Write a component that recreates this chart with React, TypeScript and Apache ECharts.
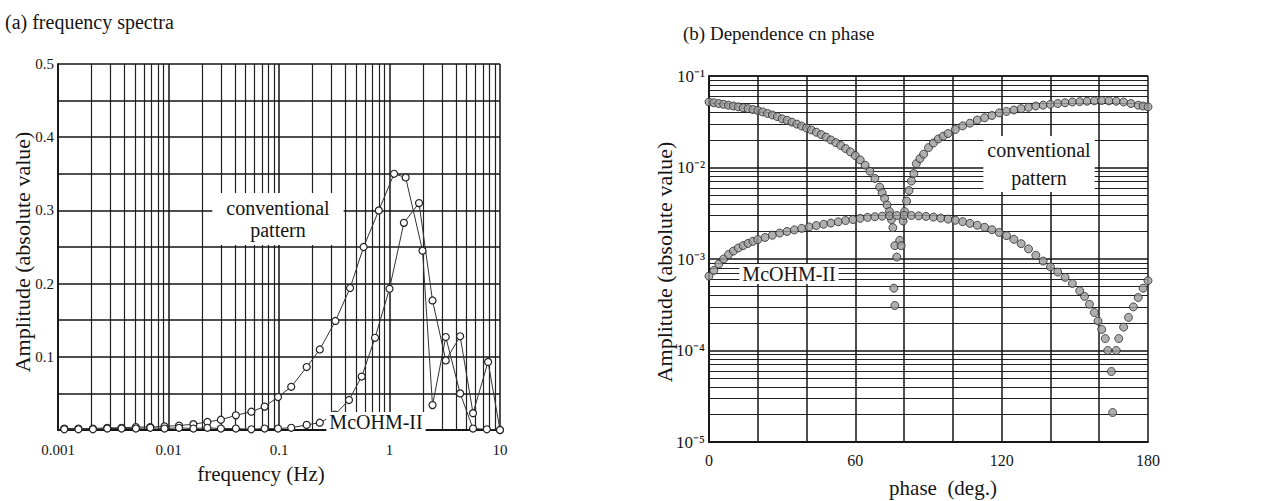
import React, { useEffect, useRef } from "react";
import * as echarts from "echarts";

// ---------- tick labels ----------
const freqTickLabels = ["0.001", "0.01", "0.1", "1", "10"];
const ampTickLabels = ["0.1", "0.2", "0.3", "0.4", "0.5"];
const phaseTickLabels = ["0", "60", "120", "180"];
const decadeLabels = ["10⁻⁵", "10⁻⁴", "10⁻³", "10⁻²", "10⁻¹"];

// ---------- (a) frequency spectra ----------
const convFreq = [0.00114, 0.00153, 0.00207, 0.00279, 0.00376, 0.00507, 0.00684, 0.0092, 0.01245, 0.0168, 0.0225, 0.0298, 0.0407, 0.0562, 0.0741, 0.098, 0.129, 0.178, 0.234, 0.324, 0.44, 0.583, 0.8, 1.1, 1.4, 1.99, 2.45, 3.23, 4.36, 5.7, 7.6, 10];
const convAmp = [0.002, 0.002, 0.002, 0.003, 0.003, 0.004, 0.004, 0.005, 0.006, 0.008, 0.011, 0.014, 0.02, 0.025, 0.032, 0.045, 0.059, 0.086, 0.11, 0.149, 0.194, 0.25, 0.3, 0.35, 0.345, 0.245, 0.034, 0.127, 0.05, 0.002, 0.001, 0.0];

const mcFreq = [0.00114, 0.00153, 0.00207, 0.00279, 0.00376, 0.00507, 0.00684, 0.0092, 0.01245, 0.0168, 0.0225, 0.0298, 0.0407, 0.0562, 0.0741, 0.098, 0.129, 0.178, 0.234, 0.32, 0.43, 0.56, 0.74, 1.0, 1.35, 1.85, 2.45, 3.23, 4.36, 5.7, 7.8, 10];
const mcAmp = [0.001, 0.001, 0.001, 0.002, 0.002, 0.002, 0.003, 0.002, 0.003, 0.002, 0.003, 0.002, 0.002, 0.001, 0.002, 0.002, 0.003, 0.007, 0.01, 0.021, 0.041, 0.073, 0.126, 0.193, 0.283, 0.31, 0.177, 0.095, 0.128, 0.023, 0.093, 0.0];

// ---------- (b) dependence on phase ----------
const convPhase = [0, 2, 4, 6, 8, 10, 12, 14, 16, 18, 20, 22, 24, 26, 28, 30, 32, 34, 36, 38, 40, 42, 44, 46, 48, 50, 52, 54, 56, 58, 60, 62, 64, 66, 68, 70, 71, 72, 73, 74, 74.8, 75.4, 76.2, 77, 75.8, 76.2, 78.2, 78.8, 79.6, 80.2, 81, 82, 83, 84, 85, 86.5, 88, 90, 92, 94, 96, 98, 101, 104, 107, 110, 113, 116, 119, 122, 125, 128, 131, 134, 137, 140, 143, 146, 149, 152, 155, 158, 161, 164, 167, 170, 173, 176, 178, 180];
const convPhaseAmp = [0.052, 0.051, 0.05, 0.049, 0.048, 0.047, 0.046, 0.045, 0.044, 0.043, 0.042, 0.0405, 0.039, 0.0375, 0.036, 0.034, 0.0328, 0.0313, 0.0298, 0.0284, 0.027, 0.0257, 0.0243, 0.0229, 0.0215, 0.02, 0.0187, 0.0174, 0.0161, 0.0148, 0.0135, 0.0121, 0.0106, 0.0091, 0.0076, 0.0061, 0.0053, 0.0046, 0.0039, 0.0033, 0.0027, 0.0022, 0.0014, 0.00105, 0.00048, 0.00031, 0.0016, 0.0014, 0.0026, 0.0033, 0.0043, 0.0056, 0.0071, 0.0086, 0.011, 0.0125, 0.014, 0.0165, 0.0185, 0.0205, 0.022, 0.0235, 0.026, 0.0285, 0.0305, 0.033, 0.035, 0.037, 0.0395, 0.041, 0.0425, 0.044, 0.0455, 0.047, 0.048, 0.049, 0.05, 0.051, 0.052, 0.0525, 0.053, 0.0535, 0.054, 0.0535, 0.053, 0.052, 0.05, 0.048, 0.047, 0.046];

const mcPhase = [0, 2, 4, 6, 8, 10, 12, 14, 16, 18, 20, 23, 26, 29, 32, 35, 38, 41, 44, 47, 50, 53, 56, 59, 62, 65, 68, 71, 74, 77, 80, 83, 86, 89, 92, 95, 98, 101, 104, 107, 110, 113, 116, 119, 122, 125, 128, 131, 134, 137, 140, 143, 146, 149, 152, 154, 156, 158, 159.5, 161, 162.5, 163.5, 165, 165.5, 167, 168, 170, 172, 174, 176, 178, 180];
const mcPhaseAmp = [0.00065, 0.00075, 0.00088, 0.001, 0.00112, 0.00122, 0.00132, 0.0014, 0.00148, 0.00156, 0.00163, 0.00172, 0.00182, 0.00192, 0.002, 0.00208, 0.00216, 0.00224, 0.00232, 0.0024, 0.00247, 0.00255, 0.00263, 0.0027, 0.00278, 0.00285, 0.0029, 0.00294, 0.00297, 0.00299, 0.003, 0.00299, 0.00296, 0.00292, 0.00287, 0.0028, 0.00273, 0.00265, 0.00256, 0.00245, 0.00234, 0.00222, 0.00209, 0.00195, 0.0018, 0.00164, 0.00147, 0.00129, 0.0011, 0.00095, 0.00082, 0.00072, 0.00063, 0.00054, 0.00045, 0.00039, 0.00032, 0.00026, 0.00021, 0.00017, 0.000135, 0.0001, 0.000059, 0.000021, 0.0001, 0.000135, 0.00018, 0.00023, 0.0003, 0.00038, 0.00048, 0.00058];

const FONT = "Liberation Serif";
const INK = "#151515";

function decadeGrid(fromExp: number, toExp: number) {
  const out: number[] = [];
  for (let e = fromExp; e < toExp; e++) {
    for (let k = 2; k <= 9; k++) out.push(k * Math.pow(10, e));
  }
  return out;
}

function gridMarkLine(vals: number[], key: "xAxis" | "yAxis") {
  return {
    silent: true,
    precision: 12,
    symbol: ["none", "none"],
    label: { show: false },
    emphasis: { disabled: true },
    lineStyle: { color: INK, width: 1.2, type: "solid", opacity: 0.95 },
    data: vals.map((v) => ({ [key]: v })),
  };
}

export default function App() {
  const ref = useRef<HTMLDivElement>(null);
  useEffect(() => {
    if (!ref.current) return;
    const chart = echarts.init(ref.current, undefined, { renderer: "svg" });

    const lineSeries = (name: string, xs: number[], ys: number[]) => ({
      name,
      type: "line",
      xAxisIndex: 0,
      yAxisIndex: 0,
      data: xs.map((x, i) => [x, ys[i]]),
      symbol: "circle",
      symbolSize: 7,
      lineStyle: { color: "#333", width: 1 },
      itemStyle: { color: "#fff", borderColor: "#222", borderWidth: 1.2 },
      z: 5,
    });
    const scatterSeries = (name: string, xs: number[], ys: number[]) => ({
      name,
      type: "scatter",
      xAxisIndex: 1,
      yAxisIndex: 1,
      data: xs.map((x, i) => [x, ys[i]]),
      symbol: "circle",
      symbolSize: 8,
      itemStyle: { color: "#9c9c9c", borderColor: "#2a2a2a", borderWidth: 1 },
      z: 5,
    });

    const axisLabelBase = { color: INK, fontFamily: FONT };
    const titleText = (text: string, x: number, y: number, size: number, extra: any = {}) => ({
      type: "text",
      x,
      y,
      z: 100,
      style: {
        text,
        fill: INK,
        font: `${size}px "${FONT}"`,
        textAlign: "center",
        textVerticalAlign: "middle",
        ...extra,
      },
    });
    const major = { show: true, lineStyle: { color: INK, width: 1.5 } };
    const axisLine = { show: true, lineStyle: { color: INK, width: 1.8 } };

    chart.setOption({
      animation: false,
      backgroundColor: "#fff",
      grid: [
        { left: 58, top: 64, width: 442, height: 366 },
        { left: 709, top: 76, width: 439, height: 366 },
      ],
      xAxis: [
        {
          type: "log",
          gridIndex: 0,
          min: 0.001,
          max: 10,
          logBase: 10,
          axisLine,
          axisTick: { show: false },
          splitLine: major,
          axisLabel: {
            ...axisLabelBase,
            fontSize: 15,
            margin: 12,
            formatter: (v: number) => freqTickLabels[Math.round(Math.log10(v)) + 3] ?? "",
          },
        },
        {
          type: "value",
          gridIndex: 1,
          min: 0,
          max: 180,
          interval: 20,
          axisLine,
          axisTick: { show: false },
          splitLine: major,
          axisLabel: {
            ...axisLabelBase,
            fontSize: 16,
            margin: 10,
            formatter: (v: number) => (Math.round(v) % 60 === 0 ? phaseTickLabels[Math.round(v) / 60] : ""),
          },
        },
      ],
      yAxis: [
        {
          type: "value",
          gridIndex: 0,
          min: 0,
          max: 0.5,
          interval: 0.05,
          axisLine,
          axisTick: { show: false },
          splitLine: major,
          axisLabel: {
            ...axisLabelBase,
            fontSize: 15,
            margin: 4,
            formatter: (v: number) => {
              const i = Math.round(v * 20);
              if (i === 0 || i % 2 !== 0) return "";
              return ampTickLabels[i / 2 - 1] ?? "";
            },
          },
        },
        {
          type: "log",
          gridIndex: 1,
          min: 1e-5,
          max: 1e-1,
          logBase: 10,
          axisLine,
          axisTick: { show: false },
          splitLine: major,
          axisLabel: {
            ...axisLabelBase,
            fontSize: 17,
            margin: 4,
            formatter: (v: number) => decadeLabels[Math.round(Math.log10(v)) + 5] ?? "",
          },
        },
      ],
      series: [
        {
          type: "line",
          xAxisIndex: 0,
          yAxisIndex: 0,
          data: [],
          z: 1,
          markLine: gridMarkLine(decadeGrid(-3, 1), "xAxis"),
        },
        {
          type: "line",
          xAxisIndex: 1,
          yAxisIndex: 1,
          data: [],
          z: 1,
          markLine: gridMarkLine(decadeGrid(-5, -1), "yAxis"),
        },
        lineSeries("conventional pattern", convFreq, convAmp),
        lineSeries("McOHM-II", mcFreq, mcAmp),
        scatterSeries("conventional pattern (phase)", convPhase, convPhaseAmp),
        scatterSeries("McOHM-II (phase)", mcPhase, mcPhaseAmp),
      ],
      graphic: [
        titleText("(a) frequency spectra", 5, 22, 20, { textAlign: "left" }),
        titleText("(b) Dependence cn phase", 683, 33, 19, { textAlign: "left" }),
        { ...titleText("Amplitude (absolute value)", 22, 252, 22), rotation: Math.PI / 2 },
        { ...titleText("Amplitude (absolute value)", 664, 262, 22), rotation: Math.PI / 2 },
        titleText("frequency (Hz)", 261, 474, 21),
        titleText("phase  (deg.)", 943, 488, 21),
        titleText("conventional\npattern", 278, 219, 20, {
          lineHeight: 22,
          backgroundColor: "#fff",
          padding: [4, 14],
        }),
        titleText("McOHM-II", 376, 422, 20, { backgroundColor: "#fff", padding: [0, 3] }),
        titleText("conventional\npattern", 1039, 164, 20, {
          lineHeight: 28,
          backgroundColor: "#fff",
          padding: [0, 4],
        }),
        titleText("McOHM-II", 789, 274, 20, { backgroundColor: "#fff", padding: [0, 3] }),
      ],
    });
    return () => chart.dispose();
  }, []);
  return (
    <div
      ref={ref}
      style={{ position: "fixed", left: 0, top: 0, width: 1287, height: 501, background: "#fff" }}
    />
  );
}
